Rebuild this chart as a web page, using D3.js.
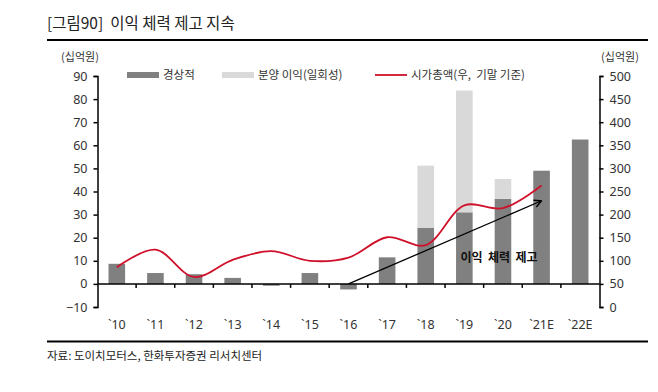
<!DOCTYPE html>
<html>
<head>
<meta charset="utf-8">
<script src="https://cdn.jsdelivr.net/npm/d3@7"></script>
<style>
  body { margin: 0; background: #fff; }
  text { font-family: "Noto Sans CJK KR", "Noto Sans", sans-serif; }
</style>
</head>
<body>
<div id="chart"></div>
<script>
// data
var years = ["`10", "`11", "`12", "`13", "`14", "`15", "`16", "`17", "`18", "`19", "`20", "`21E", "`22E"];
var recurring = [8.7, 4.7, 4.2, 2.6, -0.8, 4.7, -2.4, 11.5, 24.2, 31.0, 36.8, 49.0, 62.5];   // 경상적
var oneOff = [0, 0, 0, 0, 0, 0, 0, 0, 27.0, 52.7, 8.6, 0, 0];                              // 분양 이익(일회성)
var marketCap = [86, 124, 65, 102, 121, 100, 107, 151, 134, 220, 214, 263];                 // 시가총액(우)
var leftTicks = [-10, 0, 10, 20, 30, 40, 50, 60, 70, 80, 90];
var rightTicks = [0, 50, 100, 150, 200, 250, 300, 350, 400, 450, 500];

var svg_width = 658, svg_height = 392;
var x0 = 97.5, x1 = 599.5, yTop = 76, yBot = 307;
var numFont = "'Noto Sans', 'DejaVu Sans', sans-serif";

var svg = d3.select("#chart").append("svg")
    .attr("width", svg_width)
    .attr("height", svg_height);

var x_scale = d3.scaleBand().domain(years).range([x0, x1]).paddingInner(0.57).paddingOuter(0.285);
var band = d3.scaleBand().domain(years).range([x0, x1]);
var y_left = d3.scaleLinear().domain([-10, 90]).range([yBot, yTop]);
var y_right = d3.scaleLinear().domain([0, 500]).range([yBot, yTop]);
var cx = d => band(d) + band.bandwidth() / 2;

// title + rules
svg.append("text").attr("x", 47).attr("y", 29)
    .attr("font-size", 15.5).attr("fill", "#222")
    .attr("xml:space", "preserve")
    .text("[그림90]  이익 체력 제고 지속");
svg.append("line").attr("x1", 47).attr("x2", 648).attr("y1", 40).attr("y2", 40)
    .attr("stroke", "#000").attr("stroke-width", 2);
svg.append("line").attr("x1", 47).attr("x2", 648).attr("y1", 341.5).attr("y2", 341.5)
    .attr("stroke", "#000").attr("stroke-width", 2);
svg.append("text").attr("x", 47).attr("y", 360)
    .attr("font-size", 11.5).attr("fill", "#222")
    .text("자료: 도이치모터스, 한화투자증권 리서치센터");

// units
svg.append("text").attr("x", 80).attr("y", 61).attr("text-anchor", "middle")
    .attr("font-size", 11).attr("fill", "#333").text("(십억원)");
svg.append("text").attr("x", 620).attr("y", 61).attr("text-anchor", "middle")
    .attr("font-size", 11).attr("fill", "#333").text("(십억원)");

// bars
svg.append("g").selectAll("rect")
    .data(years)
    .enter().append("rect")
    .attr("x", d => x_scale(d))
    .attr("width", x_scale.bandwidth())
    .attr("y", (d, i) => y_left(Math.max(0, recurring[i])))
    .attr("height", (d, i) => Math.abs(y_left(recurring[i]) - y_left(0)))
    .attr("fill", "#808080");

svg.append("g").selectAll("rect")
    .data(years.filter((d, i) => oneOff[i] > 0))
    .enter().append("rect")
    .attr("x", d => x_scale(d))
    .attr("width", x_scale.bandwidth())
    .attr("y", d => { var i = years.indexOf(d); return y_left(recurring[i] + oneOff[i]); })
    .attr("height", d => { var i = years.indexOf(d); return y_left(recurring[i]) - y_left(recurring[i] + oneOff[i]); })
    .attr("fill", "#d9d9d9");

// axes
var left_axis = d3.axisLeft(y_left).tickValues(leftTicks).tickSize(4).tickPadding(6);
var gl = svg.append("g").attr("transform", `translate(${x0},0)`).call(left_axis);
var right_axis = d3.axisRight(y_right).tickValues(rightTicks).tickSize(4).tickPadding(6);
var gr = svg.append("g").attr("transform", `translate(${x1},0)`).call(right_axis);
[gl, gr].forEach(g => {
    g.select(".domain").attr("stroke", "#000").attr("stroke-width", 1.5);
    g.selectAll(".tick line").attr("stroke", "#000").attr("stroke-width", 1.5);
    g.selectAll(".tick text").attr("font-size", 12.5).attr("fill", "#333")
        .style("font-family", numFont);
});

// x axis on the zero line, ticks between categories
var gx = svg.append("g");
gx.append("line").attr("x1", x0).attr("x2", x1).attr("y1", y_left(0)).attr("y2", y_left(0))
    .attr("stroke", "#000").attr("stroke-width", 1.5);
gx.selectAll(".xt").data(years.slice(1))
    .enter().append("line")
    .attr("x1", d => band(d)).attr("x2", d => band(d))
    .attr("y1", y_left(0)).attr("y2", y_left(0) + 4)
    .attr("stroke", "#000").attr("stroke-width", 1.5);
gx.selectAll("text").data(years)
    .enter().append("text")
    .attr("x", cx).attr("y", 329)
    .attr("text-anchor", "middle")
    .attr("font-size", 12.5).attr("fill", "#333")
    .style("font-family", numFont)
    .text(d => d);

// market cap line
var line = d3.line()
    .x((d, i) => cx(years[i]))
    .y(d => y_right(d))
    .curve(d3.curveCatmullRom.alpha(0.5));
svg.append("path").datum(marketCap)
    .attr("d", line)
    .attr("fill", "none")
    .attr("stroke", "#d0102a")
    .attr("stroke-width", 1.8);

// arrow
svg.append("defs").append("marker")
    .attr("id", "head").attr("viewBox", "0 0 10 10")
    .attr("refX", 9).attr("refY", 5)
    .attr("markerWidth", 7).attr("markerHeight", 7)
    .attr("orient", "auto")
    .append("path").attr("d", "M1,1 L9,5 L1,9")
    .attr("fill", "none").attr("stroke", "#000").attr("stroke-width", 1.5);
svg.append("line")
    .attr("x1", cx("`16")).attr("y1", y_left(0))
    .attr("x2", cx("`21E")).attr("y2", y_left(36))
    .attr("stroke", "#000").attr("stroke-width", 1.3)
    .attr("marker-end", "url(#head)");
svg.append("text")
    .attr("x", cx("`20") - 4).attr("y", y_left(9.5))
    .attr("text-anchor", "middle")
    .attr("font-size", 12).attr("font-weight", "bold").attr("fill", "#111")
    .attr("xml:space", "preserve")
    .text("이익  체력  제고");

// legend
var lg = svg.append("g");
lg.append("rect").attr("x", 127).attr("y", 72).attr("width", 32).attr("height", 6).attr("fill", "#808080");
lg.append("text").attr("x", 163).attr("y", 79).attr("font-size", 11.5).attr("fill", "#333").text("경상적");
lg.append("rect").attr("x", 222).attr("y", 72).attr("width", 32).attr("height", 6).attr("fill", "#d9d9d9");
lg.append("text").attr("x", 258).attr("y", 79).attr("font-size", 11.5).attr("fill", "#333").text("분양 이익(일회성)");
lg.append("line").attr("x1", 375).attr("x2", 407).attr("y1", 75).attr("y2", 75)
    .attr("stroke", "#d0102a").attr("stroke-width", 1.8);
lg.append("text").attr("x", 411).attr("y", 79).attr("font-size", 11.5).attr("fill", "#333")
    .attr("xml:space", "preserve").text("시가총액(우,  기말 기준)");
</script>
</body>
</html>
